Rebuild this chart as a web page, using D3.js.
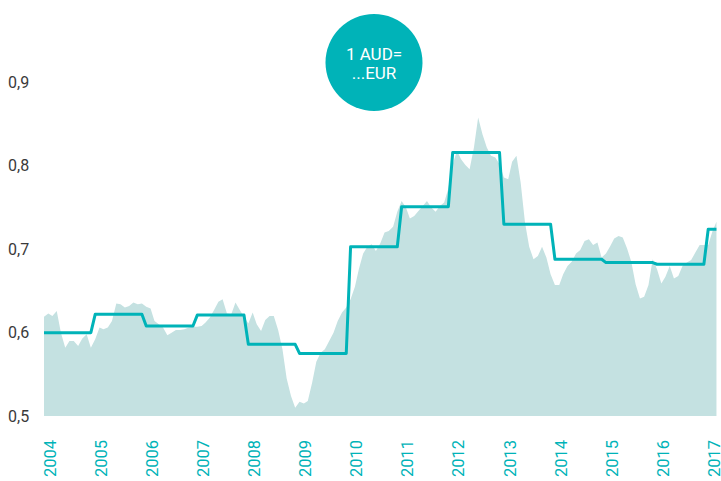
<!DOCTYPE html>
<html>
<head>
<meta charset="utf-8">
<script src="https://cdn.jsdelivr.net/npm/d3@7"></script>
<style>
  body { margin: 0; background: #fff; }
  text { font-family: Roboto, "Liberation Sans", sans-serif; }
</style>
</head>
<body>
<div id="chart"></div>
<script>

// Monthly AUD -> EUR rate, Jan 2004 to Mar 2017
const startMonth = new Date(2004, 0, 1);
const rateMonthly = [
  0.619, 0.623, 0.620, 0.626, 0.600, 0.582, 0.590, 0.590, 0.584, 0.593, 0.598, 0.582, // 2004
  0.592, 0.606, 0.604, 0.606, 0.614, 0.635, 0.634, 0.630, 0.632, 0.636, 0.634, 0.635, // 2005
  0.631, 0.629, 0.614, 0.610, 0.606, 0.597, 0.600, 0.603, 0.603, 0.604, 0.606, 0.607, // 2006
  0.607, 0.608, 0.612, 0.618, 0.627, 0.637, 0.640, 0.623, 0.622, 0.636, 0.627, 0.619, // 2007
  0.611, 0.624, 0.610, 0.602, 0.615, 0.620, 0.620, 0.603, 0.580, 0.545, 0.524, 0.510, // 2008
  0.517, 0.515, 0.518, 0.540, 0.565, 0.576, 0.580, 0.590, 0.600, 0.614, 0.624, 0.630, // 2009
  0.640, 0.655, 0.676, 0.695, 0.703, 0.706, 0.698, 0.707, 0.720, 0.722, 0.727, 0.745, // 2010
  0.758, 0.750, 0.737, 0.740, 0.746, 0.752, 0.758, 0.750, 0.745, 0.752, 0.756, 0.773, // 2011
  0.802, 0.818, 0.808, 0.801, 0.796, 0.822, 0.858, 0.838, 0.822, 0.812, 0.810, 0.802, // 2012
  0.786, 0.784, 0.805, 0.812, 0.780, 0.732, 0.703, 0.688, 0.692, 0.703, 0.690, 0.670, // 2013
  0.657, 0.657, 0.670, 0.680, 0.685, 0.695, 0.699, 0.710, 0.712, 0.705, 0.708, 0.690, // 2014
  0.695, 0.704, 0.713, 0.716, 0.714, 0.701, 0.685, 0.658, 0.641, 0.643, 0.657, 0.688, // 2015
  0.676, 0.659, 0.667, 0.680, 0.665, 0.668, 0.680, 0.684, 0.687, 0.696, 0.705, 0.705, // 2016
  0.705, 0.722, 0.733                                                                  // 2017
];

// Yearly reference rate (the step line)
const years = [2004, 2005, 2006, 2007, 2008, 2009, 2010, 2011, 2012, 2013, 2014, 2015, 2016, 2017];
const rateYearly = [0.600, 0.622, 0.608, 0.621, 0.586, 0.575, 0.703, 0.751, 0.816, 0.730, 0.688, 0.684, 0.682, 0.724];

const yTicks = [0.5, 0.6, 0.7, 0.8, 0.9];
const badgeLines = ["1 AUD=", "...EUR"];

const width = 721;
const height = 481;

const teal = "#00b3b8";
const areaFill = "#c4e1e1";

const svg = d3.select("#chart")
  .append("svg")
  .attr("width", width)
  .attr("height", height);

const monthly = rateMonthly.map((v, i) => ({ date: d3.timeMonth.offset(startMonth, i), value: v }));
const lastDate = monthly[monthly.length - 1].date;

// scales
const xScale = d3.scaleTime()
  .domain([new Date(2004, 0, 1), new Date(2017, 3, 1)])
  .range([44, 720.8]);
const yScale = d3.scaleLinear()
  .domain([0.5, 0.9])
  .range([416, 82.5]);

// area of the monthly rate
const area = d3.area()
  .x(d => xScale(d.date))
  .y0(yScale(0.5))
  .y1(d => yScale(d.value));

svg.append("path")
  .datum(monthly)
  .attr("fill", areaFill)
  .attr("d", area);

// step line: flat over each year, sloped over the last month
const stepPoints = [];
years.forEach((yr, i) => {
  stepPoints.push({ date: new Date(yr, 0, 1), value: rateYearly[i] });
  const end = i === years.length - 1 ? lastDate : new Date(yr, 11, 1);
  stepPoints.push({ date: end, value: rateYearly[i] });
});

const line = d3.line()
  .x(d => xScale(d.date))
  .y(d => yScale(d.value));

svg.append("path")
  .datum(stepPoints)
  .attr("fill", "none")
  .attr("stroke", teal)
  .attr("stroke-width", 3)
  .attr("stroke-linejoin", "round")
  .attr("d", line);

// y labels with decimal comma
const fmt = d3.formatLocale({ decimal: ",", thousands: ".", grouping: [3], currency: ["", "€"] }).format(".1f");

svg.append("g")
  .selectAll("text")
  .data(yTicks)
  .enter()
  .append("text")
    .attr("x", 8)
    .attr("y", d => yScale(d))
    .attr("dy", "0.35em")
    .attr("font-size", "16px")
    .attr("fill", "#3a3a3a")
    .text(d => fmt(d));

// year labels, rotated
svg.append("g")
  .selectAll("text")
  .data(years)
  .enter()
  .append("text")
    .attr("transform", d => `translate(${xScale(new Date(d, 0, 1)) + 6}, 440) rotate(-90)`)
    .attr("dy", "0.35em")
    .attr("text-anchor", "end")
    .attr("font-size", "16.5px")
    .attr("fill", teal)
    .text(d => d);

// badge
const badge = svg.append("g").attr("transform", "translate(374, 62.5)");
badge.append("circle")
  .attr("r", 48.5)
  .attr("fill", teal);
badge.selectAll("text")
  .data(badgeLines)
  .enter()
  .append("text")
    .attr("y", (d, i) => -2.5 + i * 19)
    .attr("text-anchor", "middle")
    .attr("font-size", "17px")
    .attr("fill", "#fff")
    .text(d => d);

</script>
</body>
</html>
